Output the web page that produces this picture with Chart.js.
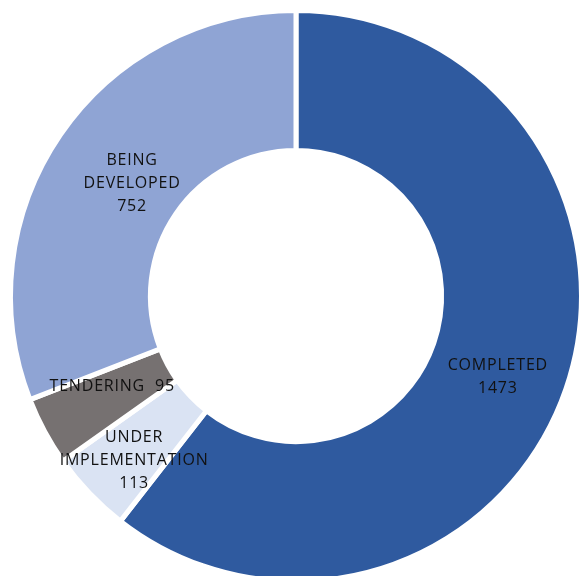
<!DOCTYPE html>
<html><head><meta charset="utf-8">
<script src="https://cdn.jsdelivr.net/npm/chart.js@4"></script>
<style>
html,body{margin:0;padding:0;background:#fff;overflow:hidden;width:581px;height:576px;}
#wrap{position:absolute;left:0;top:0;width:592px;height:592px;}
</style></head><body>
<div id="wrap"><canvas id="c"></canvas></div>
<script>
const categories = ["COMPLETED", "UNDER IMPLEMENTATION", "TENDERING", "BEING DEVELOPED"];
const labelLines = [["COMPLETED"], ["UNDER", "IMPLEMENTATION"], ["TENDERING"], ["BEING", "DEVELOPED"]];
const values = [1473, 113, 95, 752];
const colors = ["#2F5A9F", "#DAE3F3", "#767171", "#8FA4D4"];
// label nudges in px (dx, dy) from arc centre
const nudgeX = [-2, -6, 6, 14];
const nudgeY = [11, 16, -12, 9];

const labelPlugin = {
  id: 'sliceLabels',
  afterDatasetsDraw(chart) {
    const ctx = chart.ctx;
    const meta = chart.getDatasetMeta(0);
    ctx.save();
    ctx.font = "16px 'Open Sans'";
    if ('letterSpacing' in ctx) ctx.letterSpacing = "0.8px";
    ctx.fillStyle = "#111";
    ctx.textAlign = "center";
    ctx.textBaseline = "middle";
    meta.data.forEach((arc, i) => {
      const p = arc.getCenterPoint();
      const cx = p.x + nudgeX[i], cy = p.y + nudgeY[i];
      let lines;
      if (i === 2) lines = [labelLines[i][0] + "  " + values[i]];
      else lines = labelLines[i].concat([String(values[i])]);
      const lh = 23;
      const y0 = cy - (lines.length - 1) * lh / 2;
      lines.forEach((t, k) => ctx.fillText(t, cx, y0 + k * lh));
    });
    ctx.restore();
  }
};

new Chart(document.getElementById('c'), {
  type: 'doughnut',
  data: { labels: categories, datasets: [{ data: values, backgroundColor: colors, borderColor: "#fff", borderWidth: 5, hoverOffset: 0 }] },
  options: {
    responsive: true, maintainAspectRatio: false, animation: false,
    cutout: '51%',
    layout: { padding: 8 },
    plugins: { legend: { display: false }, tooltip: { enabled: false } }
  },
  plugins: [labelPlugin]
});
</script>
</body></html>
